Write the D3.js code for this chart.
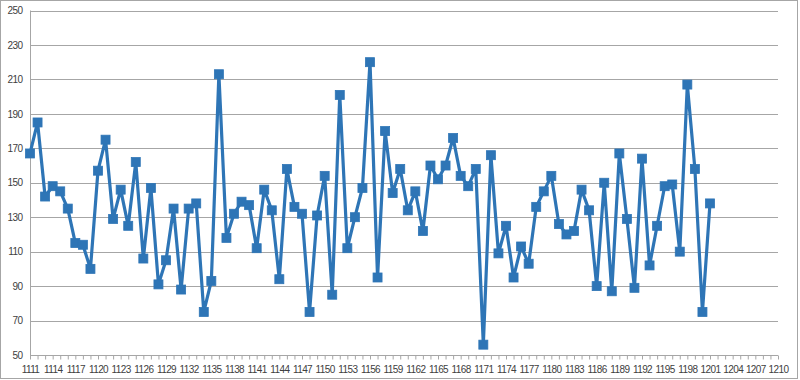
<!DOCTYPE html>
<html>
<head>
<meta charset="utf-8">
<script src="https://cdn.jsdelivr.net/npm/d3@7"></script>
<style>
  html, body { margin: 0; padding: 0; background: #fff; }
  svg { display: block; }
  .lbl { font-family: "Liberation Sans", Arial, sans-serif; font-size: 10px; letter-spacing: -0.6px; fill: #404040; }
</style>
</head>
<body>
<svg id="chart" width="800" height="380"></svg>
<script>
// Categories 1111 .. 1210 (x axis), labels every 3rd
const categories = [];
for (let c = 1111; c <= 1210; c++) categories.push(c);

// Series values for 1111 .. 1201
const values = [
  167, 185, 142, 148, 145, 135, 115, 114, 100, 157,
  175, 129, 146, 125, 162, 106, 147, 91, 105, 135,
  88, 135, 138, 75, 93, 213, 118, 132, 139, 137,
  112, 146, 134, 94, 158, 136, 132, 75, 131, 154,
  85, 201, 112, 130, 147, 220, 95, 180, 144, 158,
  134, 145, 122, 160, 152, 160, 176, 154, 148, 158,
  56, 166, 109, 125, 95, 113, 103, 136, 145, 154,
  126, 120, 122, 146, 134, 90, 150, 87, 167, 129,
  89, 164, 102, 125, 148, 149, 110, 207, 158, 75,
  138
];

const yTicks = [50, 70, 90, 110, 130, 150, 170, 190, 210, 230, 250];
const xTickLabels = categories.filter((c, i) => i % 3 === 0);

const svg = d3.select("#chart");

// outer border
svg.append("rect")
  .attr("x", 0.5).attr("y", 0.5)
  .attr("width", 797).attr("height", 378)
  .attr("fill", "#fff").attr("stroke", "#a6a6a6").attr("stroke-width", 1);

const plotLeft = 30, plotRight = 778, plotTop = 10.5, plotBottom = 355;

const x = d3.scalePoint().domain(categories).range([plotLeft, plotRight]);
const y = d3.scaleLinear().domain([50, 250]).range([plotBottom, plotTop]);

// gridlines
svg.append("g").selectAll("line").data(yTicks.slice(1)).join("line")
  .attr("x1", plotLeft).attr("x2", plotRight)
  .attr("y1", d => Math.round(y(d)) + 0.5).attr("y2", d => Math.round(y(d)) + 0.5)
  .attr("stroke", "#a6a6a6").attr("stroke-width", 1);

// x axis
const xAxis = d3.axisBottom(x)
  .tickValues(categories)
  .tickSize(4)
  .tickFormat(d => (xTickLabels.includes(d) ? d : ""));
const gx = svg.append("g").attr("transform", `translate(0,${Math.round(y(50)) + 0.5})`).call(xAxis);
gx.select(".domain").attr("stroke", "#a6a6a6").attr("d", `M${plotLeft},0H${plotRight}`);
gx.selectAll(".tick line").attr("stroke", "#a6a6a6");
gx.selectAll(".tick text").attr("class", "lbl").attr("dy", null).attr("y", 17);

// y axis
const yAxis = d3.axisLeft(y).tickValues(yTicks).tickSize(0).tickPadding(8);
const gy = svg.append("g").attr("transform", `translate(${plotLeft + 0.5},0)`).call(yAxis);
gy.select(".domain").attr("stroke", "#a6a6a6").attr("d", `M0,${plotTop}V${Math.round(y(50)) + 0.5}`);
gy.selectAll(".tick text").attr("class", "lbl");

// series
const data = values.map((v, i) => ({ c: categories[i], v }));
const line = d3.line().x(d => x(d.c)).y(d => y(d.v));
svg.append("path").datum(data)
  .attr("d", line)
  .attr("fill", "none")
  .attr("stroke", "#2E75B6")
  .attr("stroke-width", 3.2)
  .attr("stroke-linejoin", "round");

const ms = 9;
svg.append("g").selectAll("rect").data(data).join("rect")
  .attr("x", d => x(d.c) - ms / 2)
  .attr("y", d => y(d.v) - ms / 2)
  .attr("width", ms).attr("height", ms)
  .attr("fill", "#2E75B6")
  .attr("stroke", "#2E75B6").attr("stroke-width", 0.8);
</script>
</body>
</html>
